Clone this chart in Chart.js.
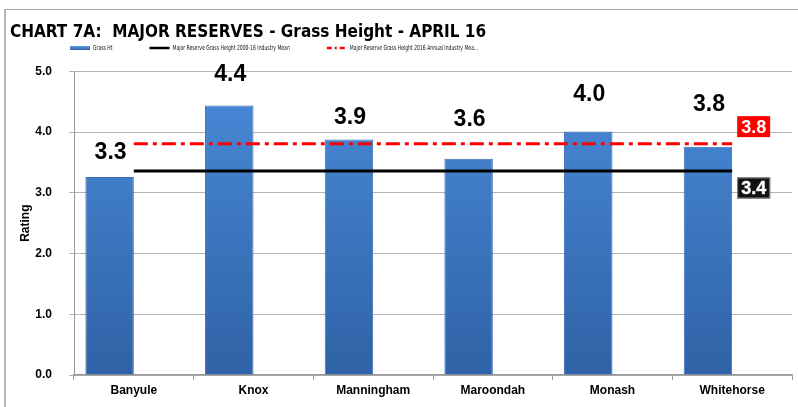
<!DOCTYPE html>
<html>
<head>
<meta charset="utf-8">
<script src="https://cdn.jsdelivr.net/npm/chart.js@4.4.1/dist/chart.umd.min.js"></script>
<style>
  html, body { margin: 0; padding: 0; background: #fff; }
  #wrap { position: relative; width: 798px; height: 407px; overflow: hidden; }
  #frame { position: absolute; left: 4px; top: 9px; width: 900px; height: 500px;
           border-left: 2px solid #b5b5b5; border-top: 1px solid #a8a8a8; pointer-events: none; }
  canvas { position: absolute; left: 0; top: 0; }
</style>
</head>
<body>
<div id="wrap">
  <canvas id="chart" width="798" height="407"></canvas>
  <div id="frame"></div>
</div>
<script>
// chart values
const councils = ["Banyule", "Knox", "Manningham", "Maroondah", "Monash", "Whitehorse"];
const grassHt = [3.26, 4.44, 3.88, 3.56, 4.01, 3.76];
const longRunMean = [3.36, 3.36, 3.36, 3.36, 3.36, 3.36];
const annualMean = [3.81, 3.81, 3.81, 3.81, 3.81, 3.81];
const seriesNames = [
  "Grass Ht",
  "Major Reserve Grass Height 2000-16 Industry Mean",
  "Major Reserve Grass Height 2016 Annual Industry Mea..."
];
const yTicks = [0, 1, 2, 3, 4, 5];

const FONT = "'Liberation Sans', Arial, sans-serif";
const NARROW = "'DejaVu Sans Condensed', 'Liberation Sans Narrow', sans-serif";
const RED_DASH = [14, 5, 4, 5];

function barFill(ctx) {
  const area = ctx.chart.chartArea;
  if (!area) return "#3f7bcc";
  const g = ctx.chart.ctx.createLinearGradient(0, area.top, 0, area.bottom);
  g.addColorStop(0, "#4a8bd9");
  g.addColorStop(1, "#2f62a6");
  return g;
}

// value labels above the bars (hand-placed in the original, so lifts vary)
const barLabels = {
  id: "barLabels",
  afterDatasetsDraw(chart) {
    const lift = [24, 31, 22, 39, 37, 42];
    const meta = chart.getDatasetMeta(0);
    const c = chart.ctx;
    c.save();
    c.font = "bold 23px " + FONT;
    c.fillStyle = "#000";
    c.textAlign = "center";
    c.textBaseline = "middle";
    meta.data.forEach((bar, i) => {
      c.fillText(grassHt[i].toFixed(1), bar.x + 1, bar.y - lift[i]);
    });
    c.restore();
  }
};

// boxed value tags at the right end of the two mean lines
const endTags = {
  id: "endTags",
  afterDatasetsDraw(chart) {
    const c = chart.ctx;
    const tags = [
      { ds: 3, values: annualMean, fill: "#ff0000", stroke: null, dy: -17 },
      { ds: 2, values: longRunMean, fill: "#111111", stroke: "#8a8a8a", dy: 17 }
    ];
    c.save();
    c.font = "bold 18px " + FONT;
    c.textAlign = "center";
    c.textBaseline = "middle";
    tags.forEach(t => {
      const pts = chart.getDatasetMeta(t.ds).data;
      const p = pts[pts.length - 1];
      const txt = t.values[t.values.length - 1].toFixed(1);
      const w = c.measureText(txt).width + 8;
      const x0 = p.x + 5, cy = p.y + t.dy, h = 21;
      c.fillStyle = t.fill;
      c.fillRect(x0, cy - h / 2, w, h);
      if (t.stroke) {
        c.strokeStyle = t.stroke;
        c.lineWidth = 1;
        c.strokeRect(x0 + 0.5, cy - h / 2 + 0.5, w - 1, h - 1);
        c.strokeStyle = "#777";
        c.strokeText(txt, x0 + w / 2, cy + 1);
      }
      c.fillStyle = "#fff";
      c.fillText(txt, x0 + w / 2, cy + 1);
    });
    c.restore();
  }
};

// legend row like the spreadsheet's: small keys, narrow text, wide gaps
const keyRow = {
  id: "keyRow",
  afterDraw(chart) {
    const c = chart.ctx;
    const y = 48;
    const squeeze = 0.72;
    let x = 70;
    c.save();
    c.font = "7px " + NARROW;
    c.textBaseline = "middle";
    c.textAlign = "left";
    seriesNames.forEach((name, i) => {
      if (i === 0) {
        const g = c.createLinearGradient(0, y - 2, 0, y + 2);
        g.addColorStop(0, "#5d9be0");
        g.addColorStop(1, "#2f62a6");
        c.fillStyle = g;
        c.fillRect(x, y - 2, 20, 4);
      } else {
        c.beginPath();
        c.lineWidth = 2.5;
        c.strokeStyle = i === 1 ? "#000" : "#ff0000";
        c.setLineDash(i === 1 ? [] : [5, 3, 2, 3]);
        c.moveTo(x, y);
        c.lineTo(x + 20, y);
        c.stroke();
        c.setLineDash([]);
      }
      c.save();
      c.translate(x + 23, y);
      c.scale(squeeze, 1);
      c.fillStyle = "#111";
      c.fillText(name, 0, 0);
      c.restore();
      x += 23 + c.measureText(name).width * squeeze + 37;
    });
    c.restore();
  }
};

new Chart(document.getElementById("chart"), {
  type: "bar",
  data: {
    labels: councils,
    datasets: [
      {
        label: seriesNames[0],
        data: grassHt,
        backgroundColor: barFill,
        borderColor: "#3a6db3",
        borderWidth: { left: 1, right: 1, top: 1, bottom: 0 },
        borderSkipped: false,
        categoryPercentage: 0.81,
        barPercentage: 1,
        order: 1
      },
      {
        // empty second bar slot, keeps bars on the left of each category as in the original
        label: "",
        data: councils.map(() => null),
        backgroundColor: "rgba(0,0,0,0)",
        categoryPercentage: 0.81,
        barPercentage: 1,
        order: 1
      },
      {
        type: "line",
        label: seriesNames[1],
        data: longRunMean,
        borderColor: "#000",
        borderWidth: 3,
        pointRadius: 0,
        fill: false,
        order: 0
      },
      {
        type: "line",
        label: seriesNames[2],
        data: annualMean,
        borderColor: "#ff0000",
        borderWidth: 3,
        borderDash: RED_DASH,
        pointRadius: 0,
        fill: false,
        order: 0
      }
    ]
  },
  options: {
    responsive: false,
    animation: false,
    layout: { padding: { left: 10, right: 6, top: 12, bottom: 0 } },
    plugins: {
      legend: { display: false },
      tooltip: { enabled: false },
      title: {
        display: true,
        text: "CHART 7A:  MAJOR RESERVES - Grass Height - APRIL 16",
        align: "start",
        color: "#000",
        font: { family: NARROW, size: 17, weight: "bold" },
        padding: { top: 10, bottom: 29 }
      }
    },
    scales: {
      x: {
        offset: true,
        grid: {
          display: true,
          offset: true,
          drawOnChartArea: false,
          drawTicks: true,
          tickLength: 5,
          color: "#999"
        },
        border: { color: "#999", width: 1.5 },
        ticks: {
          padding: 3,
          color: "#000",
          font: { family: FONT, size: 12, weight: "bold" }
        },
        afterFit(scale) { scale.height = 32; }
      },
      y: {
        min: yTicks[0],
        max: yTicks[yTicks.length - 1],
        afterBuildTicks(scale) { scale.ticks = yTicks.map(v => ({ value: v })); },
        grid: { color: "#b3b3b3", tickLength: 5 },
        border: { color: "#999" },
        ticks: {
          padding: 17,
          color: "#000",
          font: { family: FONT, size: 12, weight: "bold" },
          callback: v => Number(v).toFixed(1)
        },
        title: {
          display: true,
          text: "Rating",
          color: "#000",
          font: { family: FONT, size: 12, weight: "bold" },
          padding: { top: 8, bottom: 0 }
        },
        afterFit(scale) { scale.width = 64; }
      }
    }
  },
  plugins: [barLabels, endTags, keyRow]
});
</script>
</body>
</html>
